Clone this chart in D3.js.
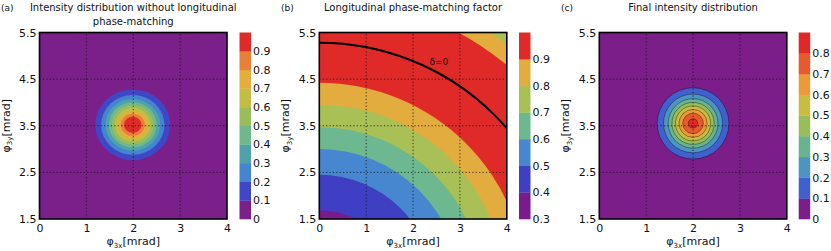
<!DOCTYPE html>
<html lang="en">
<head>
<meta charset="utf-8">
<title>Phase-matching maps</title>
<script src="https://cdn.jsdelivr.net/npm/d3@7"></script>
<style>
  body { margin: 0; background: #fff; }
  text { font-family: "DejaVu Sans", sans-serif; fill: #111; }
</style>
</head>
<body>
<script>

/* values, angles in mrad */

const X_TICKS = [0, 1, 2, 3, 4];
const Y_TICKS = [1.5, 2.5, 3.5, 4.5, 5.5];
const GRID_X = [1, 2, 3];
const GRID_Y = [2.5, 3.5, 4.5];

// (a) half-widths (x and y) at which the spot crosses 0.1, 0.2 ... 0.9
const A_CENTER = [1.99, 3.52];
const A_LEVELS = [0, 0.1, 0.2, 0.3, 0.4, 0.5, 0.6, 0.7, 0.8, 0.9, 1.0];
const A_RX = [0.80, 0.675, 0.585, 0.51, 0.445, 0.38, 0.32, 0.255, 0.185];
const A_RY = [0.76, 0.64, 0.555, 0.485, 0.42, 0.36, 0.30, 0.24, 0.175];

// (b) bands are rings round the origin: band value inside each radius, last one = outside
const B_LEVELS = [0.3, 0.4, 0.5, 0.6, 0.7, 0.8, 0.9, 1.0];
const B_RADII = [1.69, 2.45, 3.00, 3.47, 3.95, 4.42, 6.25, 6.60];
const B_BAND = [0.3, 0.4, 0.5, 0.6, 0.7, 0.8, 0.9, 0.8, 0.7];
const B_DELTA0 = 5.28;
const B_DELTA0_LABEL = [2.55, 4.80];

// (c) final spot, crossings of 0.1 ... 0.8
const C_CENTER = [2.0, 3.55];
const C_LEVELS = [0, 0.1, 0.2, 0.3, 0.4, 0.5, 0.6, 0.7, 0.8, 0.9];
const C_RADII = [0.765, 0.63, 0.53, 0.45, 0.375, 0.30, 0.22, 0.10];

/* colours of the bands, bottom to top of each colour bar */
const A_COLORS = ["#7b1f8a", "#3f47c6", "#4584d0", "#50a2aa", "#6fb88c", "#98be5c", "#c4bd44", "#e3ae3d", "#e9803a", "#e02a28"];
const B_COLORS = ["#7b1a8a", "#3f3fc4", "#4787cf", "#6db890", "#a8c055", "#e2ac3e", "#e02a28"];
const C_COLORS = ["#7b1e8a", "#4160d0", "#4c95c0", "#69b48e", "#98be5c", "#c9bc40", "#eb9a38", "#e65a30", "#e02828"];

/* layout */
const PLOT_TOP = 32.5;
const PLOT_BOTTOM = 219;
const PLOT_W = 187.5;
const CBAR_W = 11.5;

const PANELS = [
  {id: "a", left: 39.5, cbar: 239.5, tag: "(a)", tagX: 1,
   title: ["Intensity distribution without longitudinal", "phase-matching"]},
  {id: "b", left: 319.3, cbar: 519, tag: "(b)", tagX: 281,
   title: ["Longitudinal phase-matching factor"]},
  {id: "c", left: 599.3, cbar: 798.7, tag: "(c)", tagX: 561,
   title: ["Final intensity distribution"]}
];

let svg = d3.select("body").append("svg")
  .attr("width", 831)
  .attr("height", 251);

function bandIndex(levels, v) {
  return Math.round((v - levels[0]) / 0.1);
}

function draw_panel(p, levels, colors, drawField) {
  let x = d3.scaleLinear().domain([0, 4]).range([p.left, p.left + PLOT_W]);
  let y = d3.scaleLinear().domain([1.5, 5.5]).range([PLOT_BOTTOM, PLOT_TOP]);
  let g = svg.append("g");

  svg.append("clipPath").attr("id", "clip_" + p.id)
    .append("rect")
    .attr("x", x(0)).attr("y", y(5.5))
    .attr("width", x(4) - x(0)).attr("height", y(1.5) - y(5.5));

  let field = g.append("g").attr("clip-path", "url(#clip_" + p.id + ")");
  drawField(field, x, y);

  // dotted grid
  g.selectAll(".gx").data(GRID_X).enter().append("line")
    .attr("x1", d => x(d)).attr("x2", d => x(d))
    .attr("y1", y(1.5)).attr("y2", y(5.5))
    .attr("stroke", "#111").attr("stroke-width", 0.8)
    .attr("stroke-dasharray", "1.2,2.2");
  g.selectAll(".gy").data(GRID_Y).enter().append("line")
    .attr("y1", d => y(d)).attr("y2", d => y(d))
    .attr("x1", x(0)).attr("x2", x(4))
    .attr("stroke", "#111").attr("stroke-width", 0.8)
    .attr("stroke-dasharray", "1.2,2.2");

  g.append("rect")
    .attr("x", x(0)).attr("y", y(5.5))
    .attr("width", x(4) - x(0)).attr("height", y(1.5) - y(5.5))
    .attr("fill", "none").attr("stroke", "#000").attr("stroke-width", 1.6);

  // axes
  let xAxis = d3.axisBottom(x).tickValues(X_TICKS).tickFormat(d3.format("d")).tickSize(0).tickPadding(5);
  let yAxis = d3.axisLeft(y).tickValues(Y_TICKS).tickFormat(d3.format(".1f")).tickSize(0).tickPadding(3);
  let ga = g.append("g").attr("transform", "translate(0," + y(1.5) + ")").call(xAxis);
  let gb = g.append("g").attr("transform", "translate(" + x(0) + ",0)").call(yAxis);
  [ga, gb].forEach(a => {
    a.select(".domain").remove();
    a.selectAll("text").attr("font-size", 11).attr("font-family", "DejaVu Sans").attr("fill", "#111");
  });

  // axis labels with subscripts
  let xl = g.append("text")
    .attr("x", (x(0) + x(4)) / 2).attr("y", 245)
    .attr("text-anchor", "middle").attr("font-size", 11);
  xl.append("tspan").text("φ");
  xl.append("tspan").attr("font-size", 7).attr("dy", 2.5).text("3x");
  xl.append("tspan").attr("dy", -2.5).text("[mrad]");

  let yl = g.append("text")
    .attr("transform", "translate(" + (p.left - 30) + "," + ((PLOT_TOP + PLOT_BOTTOM) / 2) + ") rotate(-90)")
    .attr("text-anchor", "middle").attr("font-size", 11);
  yl.append("tspan").text("φ");
  yl.append("tspan").attr("font-size", 7).attr("dy", 2.5).text("3y");
  yl.append("tspan").attr("dy", -2.5).text("[mrad]");

  // titles
  g.append("text").attr("x", p.tagX).attr("y", 11).attr("font-size", 9).text(p.tag);
  p.title.forEach((t, i) => {
    g.append("text")
      .attr("x", (x(0) + x(4)) / 2).attr("y", 11 + i * 14)
      .attr("text-anchor", "middle").attr("font-size", 10)
      .text(t);
  });

  // colour bar
  let c = d3.scaleLinear().domain([levels[0], levels[levels.length - 1]]).range([PLOT_BOTTOM, PLOT_TOP]);
  let bands = d3.range(levels.length - 1);
  g.selectAll(".band").data(bands).enter().append("rect")
    .attr("x", p.cbar).attr("width", CBAR_W)
    .attr("y", i => c(levels[i + 1]))
    .attr("height", i => c(levels[i]) - c(levels[i + 1]) + 0.3)
    .attr("fill", i => colors[i]);
  let cAxis = d3.axisRight(c).tickValues(levels.slice(0, -1))
    .tickFormat(d => d === 0 ? "0" : d3.format(".1f")(d)).tickSize(0).tickPadding(2);
  let gc = g.append("g").attr("transform", "translate(" + (p.cbar + CBAR_W) + ",0)").call(cAxis);
  gc.select(".domain").remove();
  gc.selectAll("text").attr("font-size", 11).attr("font-family", "DejaVu Sans").attr("fill", "#111");
}

// (a)
draw_panel(PANELS[0], A_LEVELS, A_COLORS, function(f, x, y) {
  f.append("rect").attr("x", x(0)).attr("y", y(5.5))
    .attr("width", x(4) - x(0)).attr("height", y(1.5) - y(5.5))
    .attr("fill", A_COLORS[0]);
  f.selectAll("ellipse").data(d3.range(A_RX.length)).enter().append("ellipse")
    .attr("cx", x(A_CENTER[0])).attr("cy", y(A_CENTER[1]))
    .attr("rx", i => x(A_RX[i]) - x(0)).attr("ry", i => y(1.5) - y(1.5 + A_RY[i]))
    .attr("fill", i => A_COLORS[i + 1]);
});

// (b)
draw_panel(PANELS[1], B_LEVELS, B_COLORS, function(f, x, y) {
  f.append("rect").attr("x", x(0)).attr("y", y(5.5))
    .attr("width", x(4) - x(0)).attr("height", y(1.5) - y(5.5))
    .attr("fill", B_COLORS[bandIndex(B_LEVELS, B_BAND[B_BAND.length - 1])]);
  let order = d3.range(B_RADII.length).reverse();
  f.selectAll("ellipse.ring").data(order).enter().append("ellipse")
    .attr("class", "ring")
    .attr("cx", x(0)).attr("cy", y(0))
    .attr("rx", i => x(B_RADII[i]) - x(0)).attr("ry", i => y(0) - y(B_RADII[i]))
    .attr("fill", i => B_COLORS[bandIndex(B_LEVELS, B_BAND[i])]);
  f.append("ellipse")
    .attr("cx", x(0)).attr("cy", y(0))
    .attr("rx", x(B_DELTA0) - x(0)).attr("ry", y(0) - y(B_DELTA0))
    .attr("fill", "none").attr("stroke", "#000").attr("stroke-width", 2);
  f.append("text")
    .attr("x", x(B_DELTA0_LABEL[0])).attr("y", y(B_DELTA0_LABEL[1]))
    .attr("text-anchor", "middle").attr("font-size", 9).attr("fill", "#2a0a0a")
    .text("δ=0");
});

// (c)
draw_panel(PANELS[2], C_LEVELS, C_COLORS, function(f, x, y) {
  f.append("rect").attr("x", x(0)).attr("y", y(5.5))
    .attr("width", x(4) - x(0)).attr("height", y(1.5) - y(5.5))
    .attr("fill", C_COLORS[0]);
  f.selectAll("ellipse").data(C_RADII).enter().append("ellipse")
    .attr("cx", x(C_CENTER[0])).attr("cy", y(C_CENTER[1]))
    .attr("rx", r => x(r) - x(0)).attr("ry", r => y(1.5) - y(1.5 + r))
    .attr("fill", (r, i) => C_COLORS[i + 1])
    .attr("stroke", "#000").attr("stroke-opacity", 0.6).attr("stroke-width", 0.6);
});

</script>
</body>
</html>
